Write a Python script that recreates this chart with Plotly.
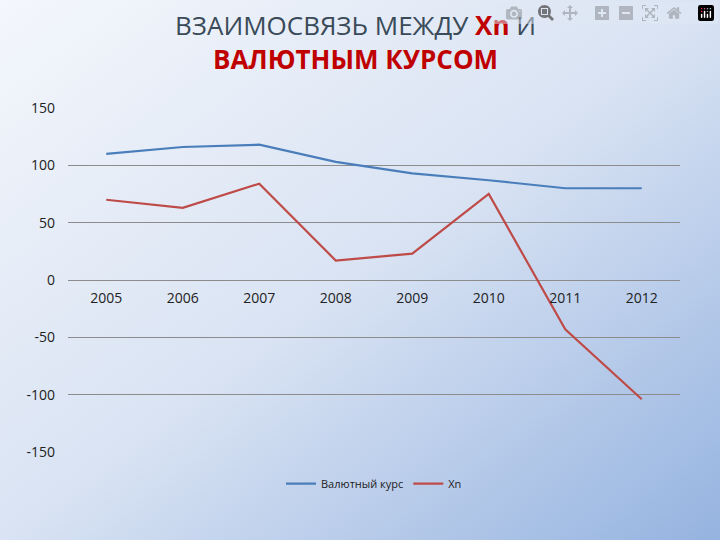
import plotly.graph_objects as go

years = ["2005", "2006", "2007", "2008", "2009", "2010", "2011", "2012"]
kurs = [110, 116, 118, 103, 93, 87, 80, 80]
xn = [70, 63, 84, 17, 23, 75, -43, -104]
yticks = [-150, -100, -50, 0, 50, 100, 150]
ylabels = ["-150", "-100", "-50", "0", "50", "100", "150"]

bg = ("data:image/svg+xml;utf8,<svg xmlns='http://www.w3.org/2000/svg' width='720' height='540'>"
      "<defs><linearGradient id='g' x1='0' y1='0' x2='1' y2='1'>"
      "<stop offset='0' stop-color='%23f4f7fc'/><stop offset='0.5' stop-color='%23d9e3f3'/>"
      "<stop offset='1' stop-color='%2395b3e0'/></linearGradient></defs>"
      "<rect width='720' height='540' fill='url(%23g)'/></svg>")

fig = go.Figure()
fig.add_trace(go.Scatter(x=years, y=kurs, mode="lines", name="Валютный курс",
                         line=dict(color="#4a7ebb", width=2.2)))
fig.add_trace(go.Scatter(x=years, y=xn, mode="lines", name="Xn",
                         line=dict(color="#be4b48", width=2.2)))

fig.update_layout(
    width=720, height=540,
    margin=dict(l=68, r=40, t=108, b=88),
    paper_bgcolor="#dfe7f4", plot_bgcolor="rgba(0,0,0,0)",
    font=dict(family="Open Sans", color="#222"),
    images=[dict(source=bg, xref="paper", yref="paper", x=-68/612, y=1+108/344,
                 sizex=720/612, sizey=540/344, sizing="stretch", layer="below",
                 xanchor="left", yanchor="top")],
    showlegend=True,
    legend=dict(orientation="h", x=0.5, xanchor="center", y=-0.05, yanchor="top",
                font=dict(size=11), bgcolor="rgba(0,0,0,0)"),
    xaxis=dict(type="category", range=[-0.5, 7.5], anchor="free", position=0.5,
               showgrid=False, showline=False, ticks="", tickfont=dict(size=14),
               ticklabelstandoff=8),
    yaxis=dict(range=[-150, 150], tickvals=yticks, ticktext=ylabels,
               gridcolor="#8c8c8c", gridwidth=1,
               zeroline=True, zerolinecolor="#8c8c8c", zerolinewidth=1,
               tickfont=dict(size=14), ticklabelstandoff=12),
    annotations=[dict(xref="paper", yref="paper", x=0.47, y=1.3, yanchor="top",
                      showarrow=False,
                      text="ВЗАИМОСВЯЗЬ МЕЖДУ <b><span style='color:#c00000'>Xn</span></b> И"
                           "<br><b><span style='color:#c00000'>ВАЛЮТНЫМ КУРСОМ</span></b>",
                      font=dict(size=26, color="#3a4a58"), align="center")],
)
fig.write_html("out.html", post_script="document.body.style.margin='0';")
